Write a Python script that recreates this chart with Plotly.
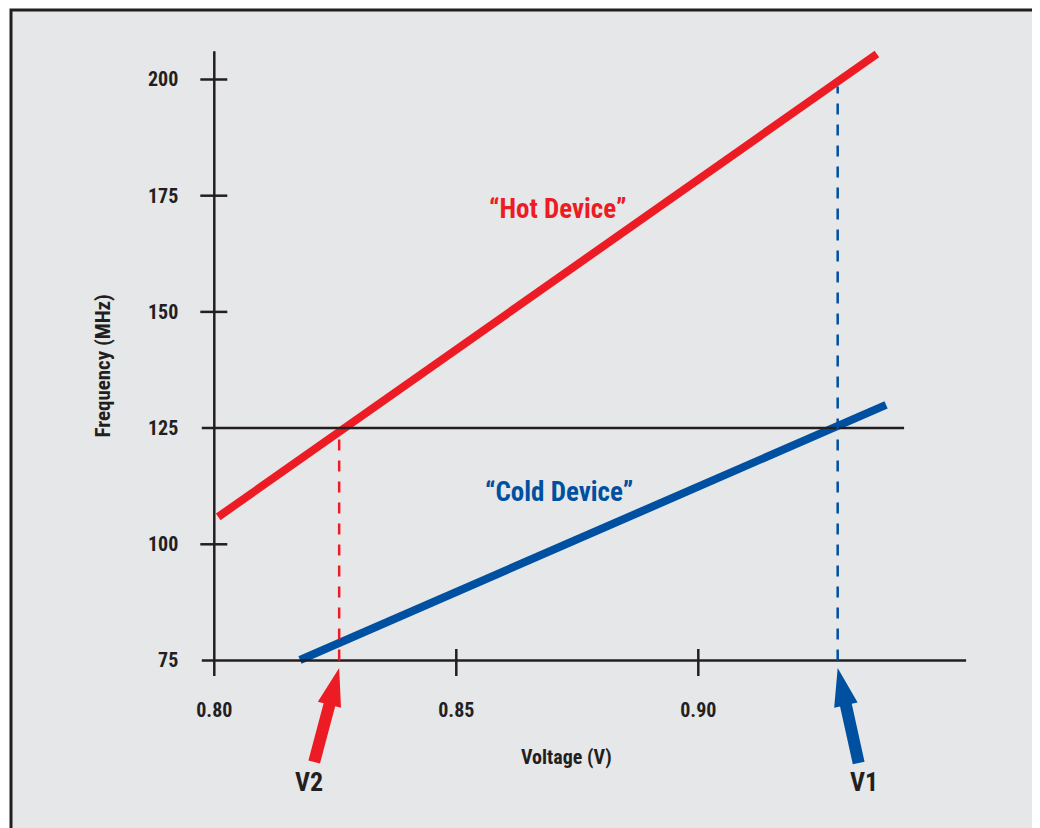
import plotly.graph_objects as go

# ---------------- data ----------------
hot_voltage = [0.8008, 0.9369]
hot_freq = [105.9, 205.5]
cold_voltage = [0.8177, 0.9388]
cold_freq = [75.1, 130.0]
target_freq = 125
v1 = 0.9288   # cold device reaches target
v2 = 0.8258   # hot device reaches target
x_ticks = [0.80, 0.85, 0.90]
x_ticktext = ["0.80", "0.85", "0.90"]
y_ticks = [75, 100, 125, 150, 175, 200]
hot_label = "“Hot Device”"
cold_label = "“Cold Device”"

# ---------------- styling ----------------
W, H = 1040, 828
X_RANGE = [0.757376, 0.972252]
Y_RANGE = [37.24, 215.38]
RED = "#ed1c24"
BLUE = "#0050a2"
INK = "#231f20"
BG = "#e6e7e8"
FONT = "Liberation Sans Narrow, Arial Narrow, Roboto Condensed, DejaVu Sans Condensed, sans-serif"
OFF = 8  # page body margin

kx = W / (X_RANGE[1] - X_RANGE[0])   # px per volt
ky = H / (Y_RANGE[1] - Y_RANGE[0])   # px per MHz


def dvx(px):
    return px / kx


def dfy(px):
    return px / ky


def interp(xs, ys, x):
    return ys[0] + (x - xs[0]) * (ys[1] - ys[0]) / (xs[1] - xs[0])


fig = go.Figure()

fig.add_trace(go.Scatter(x=hot_voltage, y=hot_freq, mode="lines",
                         line=dict(color=RED, width=8), hoverinfo="skip"))
fig.add_trace(go.Scatter(x=cold_voltage, y=cold_freq, mode="lines",
                         line=dict(color=BLUE, width=8), hoverinfo="skip"))

shapes = []
# frame / background
shapes.append(dict(type="rect", xref="paper", yref="paper",
                   x0=(11 - OFF) / W, x1=(1035 - OFF) / W, y0=-0.02, y1=1 - (10 - OFF) / H,
                   fillcolor=BG, line=dict(color=INK, width=3), layer="below"))

x0 = x_ticks[0]
y0 = y_ticks[0]
line_style = dict(color=INK, width=2.5)
# y axis line
shapes.append(dict(type="line", xref="x", yref="y", x0=x0, x1=x0,
                   y0=y0 - dfy(15.5), y1=hot_freq[1] + 0.6, line=line_style))
# x axis line
shapes.append(dict(type="line", xref="x", yref="y", x0=x0 - dvx(12.5), x1=cold_voltage[1] + dvx(80),
                   y0=y0, y1=y0, line=line_style))
# target line
shapes.append(dict(type="line", xref="x", yref="y", x0=x0 - dvx(12.5), x1=cold_voltage[1] + dvx(18),
                   y0=target_freq, y1=target_freq, line=line_style))
# y tick marks
for t in y_ticks:
    if t in (y_ticks[0], target_freq):
        continue
    shapes.append(dict(type="line", xref="x", yref="y", x0=x0 - dvx(14), x1=x0 + dvx(13),
                       y0=t, y1=t, line=line_style))
# x tick marks
for t in x_ticks[1:]:
    shapes.append(dict(type="line", xref="x", yref="y", x0=t, x1=t,
                       y0=y0 - dfy(15.5), y1=y0 + dfy(11.5), line=line_style))

# dashed verticals up to hot device line
shapes.append(dict(type="line", xref="x", yref="y", x0=v2, x1=v2, y0=y0,
                   y1=interp(hot_voltage, hot_freq, v2) - dfy(5),
                   line=dict(color=RED, width=2.5, dash="11px,10px")))
shapes.append(dict(type="line", xref="x", yref="y", x0=v1, x1=v1, y0=y0,
                   y1=interp(hot_voltage, hot_freq, v1) - dfy(5),
                   line=dict(color=BLUE, width=2.5, dash="11px,10px")))


def arrow_path(v, dx_tail, dy_tail):
    """Arrow polygon with tip just below the x axis at voltage v; offsets in px."""
    tip_x, tip_y = 0.0, 7.5            # px below axis line (y down)
    length = (dx_tail ** 2 + dy_tail ** 2) ** 0.5
    ux, uy = dx_tail / length, dy_tail / length
    nx, ny = -uy, ux
    head_len, head_hw, shaft_hw = 38, 12, 6
    bx, by = tip_x + head_len * ux, tip_y + head_len * uy
    cx, cy = tip_x + dx_tail, tip_y + dy_tail
    pts = [(tip_x, tip_y),
           (bx + head_hw * nx, by + head_hw * ny),
           (bx + shaft_hw * nx, by + shaft_hw * ny),
           (cx + shaft_hw * nx, cy + shaft_hw * ny),
           (cx - shaft_hw * nx, cy - shaft_hw * ny),
           (bx - shaft_hw * nx, by - shaft_hw * ny),
           (bx - head_hw * nx, by - head_hw * ny)]
    parts = []
    for i, (px, py) in enumerate(pts):
        xv = v + dvx(px)
        yv = y0 - dfy(py)
        parts.append(("M" if i == 0 else "L") + f"{xv:.6f},{yv:.4f}")
    return " ".join(parts) + " Z"


shapes.append(dict(type="path", xref="x", yref="y", path=arrow_path(v2, -25, 94),
                   fillcolor=RED, line=dict(width=0)))
shapes.append(dict(type="path", xref="x", yref="y", path=arrow_path(v1, 21, 95),
                   fillcolor=BLUE, line=dict(width=0)))

annotations = [
    dict(x=0.8710, y=172.1, xref="x", yref="y", text=f"<b>{hot_label}</b>", showarrow=False,
         font=dict(family=FONT, size=27, color=RED)),
    dict(x=0.8712, y=111.3, xref="x", yref="y", text=f"<b>{cold_label}</b>", showarrow=False,
         font=dict(family=FONT, size=27, color=BLUE)),
    dict(x=v2 - dvx(30), y=y0 - dfy(121.5), xref="x", yref="y", text="<b>V2</b>", showarrow=False,
         font=dict(family=FONT, size=26, color=INK)),
    dict(x=v1 + dvx(26), y=y0 - dfy(121.5), xref="x", yref="y", text="<b>V1</b>", showarrow=False,
         font=dict(family=FONT, size=26, color=INK)),
    dict(x=0.8728, y=y0 - dfy(96.5), xref="x", yref="y", text="<b>Voltage (V)</b>", showarrow=False,
         font=dict(family=FONT, size=20, color=INK)),
    dict(x=x0 - dvx(111), y=138.3, xref="x", yref="y", text="<b>Frequency (MHz)</b>", showarrow=False,
         textangle=-90, font=dict(family=FONT, size=21, color=INK)),
]

fig.update_layout(
    width=W, height=H,
    margin=dict(l=0, r=0, t=0, b=0),
    paper_bgcolor="white",
    plot_bgcolor="rgba(0,0,0,0)",
    showlegend=False,
    shapes=shapes,
    annotations=annotations,
    xaxis=dict(range=X_RANGE, domain=[0, 1], anchor="free", position=1 - (660.5 - OFF) / H,
               tickvals=x_ticks, ticktext=x_ticktext, ticks="", showline=False,
               showgrid=False, zeroline=False, automargin=False, ticklabelstandoff=35,
               tickfont=dict(family=FONT, size=20, color=INK, weight="bold")),
    yaxis=dict(range=Y_RANGE, domain=[0, 1], anchor="free", position=(214.3 - OFF) / W,
               tickvals=y_ticks, ticks="", showline=False,
               showgrid=False, zeroline=False, automargin=False, ticklabelstandoff=36,
               tickfont=dict(family=FONT, size=20, color=INK, weight="bold")),
)

fig.write_html("out.html")
